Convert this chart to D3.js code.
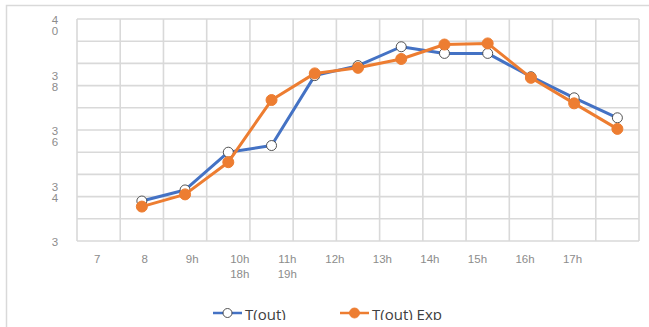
<!DOCTYPE html>
<html>
<head>
<meta charset="utf-8">
<script src="https://cdn.jsdelivr.net/npm/d3@7/dist/d3.min.js"></script>
<style>
  html, body { margin: 0; padding: 0; background: #fff; }
  svg { display: block; font-family: "Open Sans", "Liberation Sans", sans-serif; }
</style>
</head>
<body>
<svg id="chart" width="649" height="327"></svg>
<script>
// Hourly slots along the category axis (7h .. 19h)
const hours = ["7", "8", "9", "10", "11", "12", "13", "14", "15", "16", "17", "18", "19"];
// Measured outlet temperature, from 8h to 19h
const tOut = [31.8, 32.3, 34.0, 34.3, 37.45, 37.9, 38.75, 38.45, 38.45, 37.4, 36.45, 35.55];
// Expected outlet temperature, from 8h to 19h
const tOutExp = [31.55, 32.1, 33.55, 36.35, 37.55, 37.8, 38.2, 38.85, 38.9, 37.35, 36.2, 35.05];
const dataHours = hours.slice(1);

// Axis labels as printed
const xTickLabels = ["7", "8", "9h", "10h\n18h", "11h\n19h", "12h", "13h", "14h", "15h", "16h", "17h"];
const yTickValues = [40, 37.5, 35, 32.5, 30];
const yTickLabels = ["4\n0", "3\n8", "3\n6", "3\n4", "3"];
const seriesNames = ["T(out)", "T(out) Exp"];

const svg = d3.select("#chart");
const plot = { left: 77, right: 639, top: 19, bottom: 241 };

// Outer chart frame (runs past the right and bottom edges)
svg.append("rect")
  .attr("x", 6.5).attr("y", 5.5)
  .attr("width", 700).attr("height", 400)
  .attr("fill", "#fff").attr("stroke", "#d9d9d9").attr("stroke-width", 1.5);

const x = d3.scaleBand().domain(hours).range([plot.left, plot.right]);
const y = d3.scaleLinear().domain([30, 40]).range([plot.bottom, plot.top]);
const xLab = d3.scalePoint().domain(xTickLabels).range([96.7, 572]);

const grid = svg.append("g").attr("stroke", "#d9d9d9").attr("stroke-width", 1.6).attr("fill", "none");
// horizontal gridlines every degree
grid.selectAll("line.h").data(d3.range(30, 41)).join("line")
  .attr("class", "h")
  .attr("x1", plot.left).attr("x2", plot.right)
  .attr("y1", d => y(d)).attr("y2", d => y(d));
// vertical gridlines at the band boundaries
const bounds = hours.map(h => x(h)).concat([x(hours[hours.length - 1]) + x.bandwidth()]);
grid.selectAll("line.v").data(bounds).join("line")
  .attr("class", "v")
  .attr("x1", d => d).attr("x2", d => d)
  .attr("y1", plot.top).attr("y2", plot.bottom);

// Y axis labels (wrapped onto two lines)
const yAxis = d3.axisLeft(y).tickValues(yTickValues).tickSize(0).tickFormat("");
const gy = svg.append("g").attr("transform", "translate(59,0)").call(yAxis);
gy.select(".domain").remove();
gy.selectAll(".tick").each(function (d, i) {
  const t = d3.select(this).append("text")
    .attr("fill", "#8c8c8c").attr("font-size", 11.5).attr("text-anchor", "middle")
    .attr("x", -4).attr("y", 4.5);
  yTickLabels[i].split("\n").forEach((s, k) => {
    t.append("tspan").attr("x", -4).attr("dy", k === 0 ? 0 : 11).text(s);
  });
});

// X axis labels
const xAxis = d3.axisBottom(xLab).tickSize(0).tickFormat("");
const gx = svg.append("g").attr("transform", `translate(0,${plot.bottom})`).call(xAxis);
gx.select(".domain").remove();
gx.selectAll(".tick").each(function (d) {
  const t = d3.select(this).append("text")
    .attr("fill", "#8c8c8c").attr("font-size", 11.5).attr("text-anchor", "middle")
    .attr("y", 22);
  d.split("\n").forEach((s, k) => {
    t.append("tspan").attr("x", 0).attr("dy", k === 0 ? 0 : 14.5).text(s);
  });
});

const cx = h => x(h) + x.bandwidth() / 2;
const line = d3.line().x((d, i) => cx(dataHours[i])).y(d => y(d));

const series = [
  { name: seriesNames[0], values: tOut, color: "#4472C4", open: true },
  { name: seriesNames[1], values: tOutExp, color: "#ED7D31", open: false }
];

series.forEach(s => {
  svg.append("path").datum(s.values)
    .attr("d", line).attr("fill", "none")
    .attr("stroke", s.color).attr("stroke-width", 3).attr("stroke-linejoin", "round");
  svg.append("g").selectAll("circle").data(s.values).join("circle")
    .attr("cx", (d, i) => cx(dataHours[i])).attr("cy", d => y(d))
    .attr("r", s.open ? 5 : 5.5)
    .attr("fill", s.open ? "#fff" : s.color)
    .attr("stroke", s.open ? "#404040" : s.color)
    .attr("stroke-width", s.open ? 0.9 : 1);
});

// Legend
svg.append("clipPath").attr("id", "legclip")
  .append("rect").attr("x", 0).attr("y", 0).attr("width", 649).attr("height", 320);
const legend = svg.append("g").attr("clip-path", "url(#legclip)");
const legendPos = [213, 340];
series.forEach((s, i) => {
  const g = legend.append("g").attr("transform", `translate(${legendPos[i]},313)`);
  g.append("line").attr("x1", 0).attr("x2", 29).attr("y1", 0).attr("y2", 0)
    .attr("stroke", s.color).attr("stroke-width", 2.5);
  g.append("circle").attr("cx", 14.5).attr("cy", 0).attr("r", s.open ? 4.5 : 5)
    .attr("fill", s.open ? "#fff" : s.color)
    .attr("stroke", s.open ? "#404040" : s.color).attr("stroke-width", 0.9);
  g.append("text").attr("x", 32).attr("y", 6.5)
    .attr("font-size", 15).attr("fill", "#404040").text(s.name);
});
</script>
</body>
</html>
